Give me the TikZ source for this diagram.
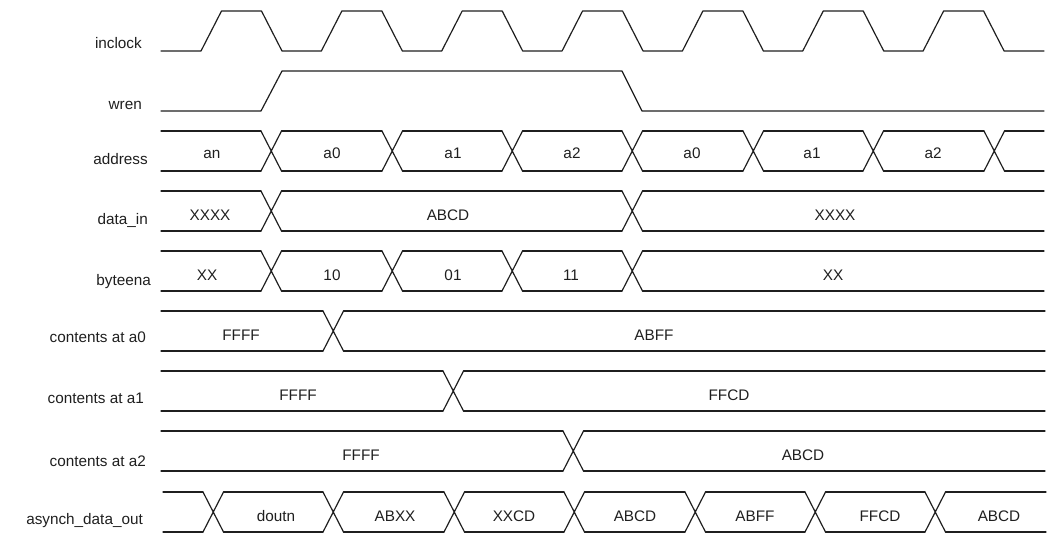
\documentclass[tikz,border=0pt]{standalone}
\usepackage{fontspec}
\setmainfont{Liberation Sans}
\usetikzlibrary{positioning}

\definecolor{ink}{gray}{0.12}
\newcommand{\edgew}{20.5}
% barramento: topo, base, inicio, fim, lista de transicoes
\newcommand{\busrow}[5]{%
  \draw[wave] (#3,#1) foreach \x in {#5} {-- (\x,#1) ({\x+\edgew},#1)} -- (#4,#1);
  \draw[wave] (#3,#2) foreach \x in {#5} {-- (\x,#2) ({\x+\edgew},#2)} -- (#4,#2);
  \draw[wave] foreach \x in {#5} {(\x,#1) -- ({\x+\edgew},#2) (\x,#2) -- ({\x+\edgew},#1)};}

\begin{document}
\begin{tikzpicture}[
  x=1pt, y=-1pt,
  wave/.style={draw=ink, line width=1.2pt, line join=round, line cap=round},
  sig/.style={anchor=base east, inner sep=0pt, text=ink, font=\fontsize{15.3}{18}\selectfont},
  val/.style={anchor=base, inner sep=0pt, text=ink, font=\fontsize{15.3}{18}\selectfont}
]
\useasboundingbox (0,0) rectangle (1050,550);

% nomes dos sinais
\node[sig] (lclk)  at (142,48)  {inclock};
\node[sig] (lwren) at (142,109) {wren};
\node[sig] (laddr) at (148,164) {address};
\node[sig] (ldata) at (148,224) {data\_in};
\node[sig] (lbyte) at (151,285) {byteena};
\node[sig] (lca0)  at (146,342) {contents at a0};
\node[sig] (lca1)  at (144,403) {contents at a1};
\node[sig] (lca2)  at (146,466) {contents at a2};
\node[sig] (lout)  at (143,524) {asynch\_data\_out};

% clock e wren
\draw[wave] (161,51) foreach \k in {0,...,6} {
  -- ({201+120.35*\k},51) -- ({221.5+120.35*\k},11)
  -- ({261.5+120.35*\k},11) -- ({282+120.35*\k},51)} -- (1044,51);
\draw[wave] (161,111) -- (261,111) -- (282,71) -- (622,71) -- (642,111) -- (1044,111);

% barramentos
\busrow{131}{171}{161}{1044}{261,382,502,622,743,863,984}
\busrow{191}{231}{161}{1044}{261,622}
\busrow{251}{291}{161}{1044}{261,382,502,622}
\busrow{311}{351}{161}{1045}{323}
\busrow{371}{411}{161}{1045}{443}
\busrow{431}{471}{161}{1045}{563}
\busrow{492}{532}{163}{1046}{203,323,444,564,685,805,925}

% valores
\node[val] (ad1) at (212,158) {an};
\node[val] (ad2) at (332,158) {a0};
\node[val] (ad3) at (453,158) {a1};
\node[val] (ad4) at (572,158) {a2};
\node[val] (ad5) at (692,158) {a0};
\node[val] (ad6) at (812,158) {a1};
\node[val] (ad7) at (933,158) {a2};

\node[val] (di1) at (210,220) {XXXX};
\node[val] (di2) at (448,220) {ABCD};
\node[val] (di3) at (835,220) {XXXX};

\node[val] (be1) at (207,280) {XX};
\node[val] (be2) at (332,280) {10};
\node[val] (be3) at (453,280) {01};
\node[val] (be4) at (571,280) {11};
\node[val] (be5) at (833,280) {XX};

\node[val] (c01) at (241,340) {FFFF};
\node[val] (c02) at (654,340) {ABFF};
\node[val] (c11) at (298,400) {FFFF};
\node[val] (c12) at (729,400) {FFCD};
\node[val] (c21) at (361,460) {FFFF};
\node[val] (c22) at (803,460) {ABCD};

\node[val] (do1) at (276,521) {doutn};
\node[val] (do2) at (395,521) {ABXX};
\node[val] (do3) at (514,521) {XXCD};
\node[val] (do4) at (635,521) {ABCD};
\node[val] (do5) at (755,521) {ABFF};
\node[val] (do6) at (880,521) {FFCD};
\node[val] (do7) at (999,521) {ABCD};
\end{tikzpicture}
\end{document}
